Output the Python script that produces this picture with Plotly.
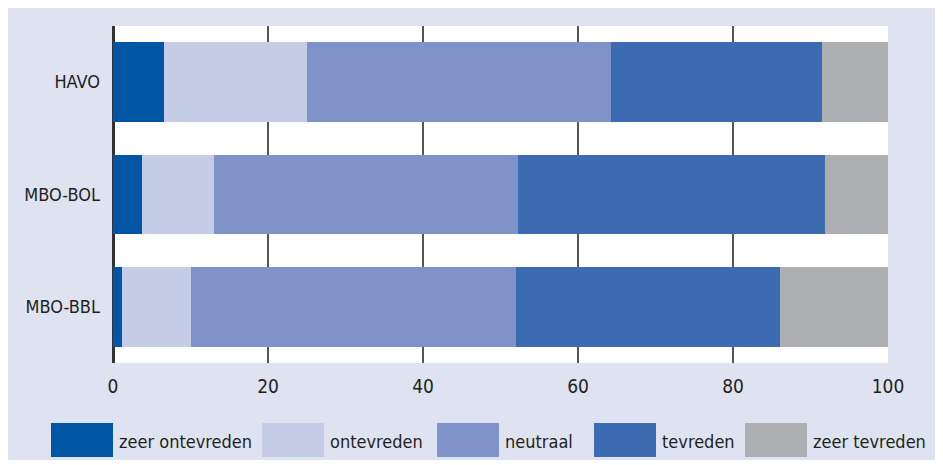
import plotly.graph_objects as go

categories = ["HAVO", "MBO-BOL", "MBO-BBL"]
series_names = ["zeer ontevreden", "ontevreden", "neutraal", "tevreden", "zeer tevreden"]
zeer_ontevreden = [6.6, 3.7, 1.2]
ontevreden = [18.4, 9.3, 8.9]
neutraal = [39.2, 39.2, 41.9]
tevreden = [27.3, 39.7, 34.1]
zeer_tevreden = [8.5, 8.1, 13.9]
tick_values = [0, 20, 40, 60, 80, 100]
tick_labels = ["0", "20", "40", "60", "80", "100"]

colors = ["#0055A5", "#C5CDE6", "#8093C9", "#3C6BB2", "#AEAFB3"]
series = [zeer_ontevreden, ontevreden, neutraal, tevreden, zeer_tevreden]

OFF = 8  # page body margin
W, H = 935, 452
L, R, T, B = 105, 55, 18, 97
pw, ph = W - L - R, H - T - B

def px(x):  # page x -> paper
    return (x - OFF - L) / pw

def py(y):  # page y -> paper
    return (H - B - (y - OFF)) / ph

FONT = "DejaVu Sans Condensed, Liberation Sans Narrow, sans-serif"
TXT = "#231F20"

fig = go.Figure()
for name, vals, col in zip(series_names, series, colors):
    fig.add_trace(go.Bar(
        y=categories, x=vals, name=name, orientation="h",
        marker=dict(color=col, line=dict(width=0)),
        showlegend=False, hoverinfo="x+name",
    ))

shapes = []
annotations = []
box_x = [51, 262, 437, 594, 745]
for bx, name, col in zip(box_x, series_names, colors):
    shapes.append(dict(type="rect", xref="paper", yref="paper",
                       x0=px(bx), x1=px(bx + 62), y0=py(457), y1=py(423),
                       fillcolor=col, line=dict(width=0)))
    annotations.append(dict(xref="paper", yref="paper", x=px(bx + 66), y=py(441),
                            text=name, showarrow=False, xanchor="left", yanchor="middle",
                            font=dict(family=FONT, size=18, color=TXT)))

fig.update_layout(
    width=W, height=H,
    margin=dict(l=L, r=R, t=T, b=B, pad=0),
    barmode="stack", bargap=0.288,
    paper_bgcolor="#DFE3F1", plot_bgcolor="#FFFFFF",
    shapes=shapes, annotations=annotations,
    font=dict(family=FONT, color=TXT, size=17),
    xaxis=dict(range=[0, 100], tickvals=tick_values, ticktext=tick_labels,
               showgrid=True, gridcolor="#555555", gridwidth=1.5,
               zeroline=True, zerolinecolor="#333333", zerolinewidth=2.5,
               showline=False, ticks="", ticklabelstandoff=10,
               tickfont=dict(family=FONT, size=19, color=TXT), fixedrange=True),
    yaxis=dict(autorange="reversed", showgrid=False, zeroline=False, showline=False,
               ticks="", ticklabelstandoff=12,
               tickfont=dict(family=FONT, size=18, color=TXT), fixedrange=True),
)

fig.write_html("out.html")
